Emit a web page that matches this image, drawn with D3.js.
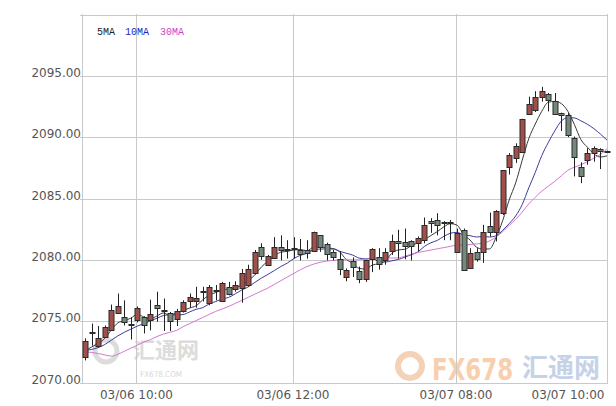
<!DOCTYPE html>
<html><head><meta charset="utf-8">
<script src="https://cdn.jsdelivr.net/npm/d3@7/dist/d3.min.js"></script>
<style>body{margin:0;background:#fff}svg{display:block}</style>
</head><body>
<svg id="chart" width="616" height="406"></svg>
<script>
// ---- data (5-minute candles) ----
const opens  = [2072.1,2074.1,2073.0,2073.75,2074.3,2075.7,2075.35,2074.8,2075.1,2075.3,2075.1,2076.3,2075.95,2075.7,2075.15,2075.8,2076.65,2076.65,2077.38,2076.45,2077.5,2076.65,2077.8,2077.6,2077.7,2077.95,2078.9,2081.05,2079.6,2080.15,2081.05,2080.88,2080.9,2080.78,2080.82,2080.75,2082.0,2081.3,2080.6,2080.05,2078.6,2079.88,2079.1,2078.45,2080.1,2080.25,2080.0,2080.7,2081.52,2081.42,2081.5,2081.35,2081.6,2083.18,2083.25,2083.1,2083.1,2080.65,2082.45,2079.3,2080.65,2080.65,2082.75,2082.3,2083.8,2087.6,2088.3,2088.8,2091.9,2092.2,2093.3,2093.55,2092.95,2092.0,2091.8,2089.9,2087.55,2088.1,2088.75,2089.0,2088.85];
const highs  = [2073.6,2074.8,2074.6,2074.65,2076.35,2077.25,2076.7,2075.3,2076.2,2075.4,2076.75,2077.4,2076.85,2075.75,2076.0,2076.7,2077.25,2077.8,2077.8,2077.95,2077.95,2078.2,2078.2,2078.25,2079.25,2079.6,2080.8,2081.35,2080.4,2081.85,2082.0,2081.6,2081.85,2081.7,2081.6,2082.3,2082.0,2081.4,2080.8,2080.7,2079.3,2080.2,2079.45,2080.0,2080.95,2080.95,2080.95,2082.05,2082.45,2082.55,2081.6,2081.9,2083.45,2083.4,2083.8,2083.15,2083.25,2082.55,2082.55,2080.95,2080.95,2082.85,2083.85,2084.05,2087.3,2088.7,2089.5,2091.5,2093.3,2093.75,2094.1,2093.6,2093.6,2092.0,2091.95,2090.05,2087.95,2089.1,2089.25,2089.1,2088.9];
const lows   = [2071.8,2073.0,2072.85,2073.7,2074.25,2075.65,2074.65,2073.5,2074.9,2074.0,2074.25,2074.95,2074.2,2074.2,2074.6,2075.7,2076.1,2076.1,2076.6,2076.3,2076.7,2076.6,2077.1,2077.4,2076.5,2077.8,2078.8,2080.0,2079.55,2080.1,2079.95,2080.1,2080.1,2079.95,2080.1,2080.7,2080.65,2079.95,2079.95,2078.75,2078.25,2078.6,2078.1,2078.2,2079.0,2079.2,2079.6,2080.4,2080.1,2080.05,2079.95,2080.7,2081.35,2082.2,2082.0,2081.6,2081.6,2080.65,2079.15,2079.3,2079.85,2079.75,2081.9,2081.5,2083.65,2086.95,2087.9,2088.75,2091.8,2092.05,2092.9,2092.1,2091.85,2090.5,2090.0,2086.8,2086.25,2087.75,2088.0,2087.4,2088.8];
const closes = [2073.4,2074.0,2073.65,2074.5,2075.9,2076.25,2074.9,2074.7,2076.1,2074.7,2075.6,2076.05,2075.9,2075.05,2075.8,2076.6,2077.0,2076.85,2077.42,2077.8,2077.56,2078.1,2077.2,2077.95,2078.9,2079.25,2080.6,2080.35,2080.35,2081.05,2080.8,2080.92,2080.95,2080.5,2080.55,2082.25,2081.05,2080.5,2080.25,2079.25,2079.15,2079.45,2078.4,2079.98,2080.88,2079.7,2080.6,2081.5,2081.35,2081.15,2081.15,2081.8,2082.8,2083.0,2082.8,2083.08,2083.08,2082.2,2079.2,2080.55,2080.1,2082.3,2082.3,2083.95,2087.3,2088.55,2089.3,2091.5,2092.7,2093.3,2093.75,2093.0,2091.85,2091.8,2090.15,2088.35,2086.85,2088.75,2089.1,2088.85,2088.85];
const ma5  = [2072.6,2072.9,2073.2,2073.6,2074.29,2074.86,2075.04,2075.25,2075.57,2075.33,2075.2,2075.43,2075.67,2075.46,2075.68,2075.88,2076.07,2076.26,2076.73,2077.13,2077.33,2077.55,2077.62,2077.72,2077.94,2078.28,2078.78,2079.41,2079.89,2080.32,2080.63,2080.69,2080.81,2080.84,2080.74,2081.03,2081.06,2080.97,2080.92,2080.66,2080.04,2079.72,2079.3,2079.25,2079.57,2079.68,2079.91,2080.53,2080.81,2080.86,2081.15,2081.39,2081.65,2081.98,2082.31,2082.7,2082.95,2082.83,2082.07,2081.62,2081.03,2080.87,2080.89,2081.84,2083.19,2084.88,2086.28,2088.12,2089.87,2091.07,2092.11,2092.85,2092.92,2092.74,2092.11,2091.03,2089.8,2089.18,2088.64,2088.38,2088.48];
const ma10 = [2072.6,2072.7,2072.85,2073.1,2073.45,2073.8,2074.1,2074.35,2074.6,2074.81,2075.03,2075.24,2075.46,2075.52,2075.51,2075.54,2075.75,2075.97,2076.1,2076.41,2076.6,2076.81,2076.94,2077.23,2077.54,2077.8,2078.16,2078.51,2078.81,2079.13,2079.46,2079.74,2080.11,2080.37,2080.53,2080.83,2080.88,2080.89,2080.88,2080.7,2080.54,2080.39,2080.14,2080.08,2080.12,2079.86,2079.82,2079.92,2080.03,2080.22,2080.42,2080.65,2081.09,2081.39,2081.59,2081.92,2082.17,2082.24,2082.03,2081.97,2081.86,2081.91,2081.86,2081.96,2082.41,2082.95,2083.58,2084.51,2085.86,2087.13,2088.5,2089.57,2090.52,2091.31,2091.59,2091.57,2091.33,2091.05,2090.69,2090.25,2089.76];
const ma30 = [2072.5,2072.45,2072.36,2072.25,2072.15,2072.3,2072.55,2072.8,2073.05,2073.3,2073.5,2073.75,2073.95,2074.1,2074.25,2074.55,2074.8,2075.05,2075.3,2075.55,2075.8,2076.0,2076.2,2076.45,2076.7,2076.95,2077.2,2077.45,2077.7,2078.0,2078.3,2078.6,2078.9,2079.2,2079.45,2079.65,2079.8,2079.9,2079.95,2080.0,2080.0,2080.0,2080.0,2080.05,2080.1,2080.15,2080.15,2080.15,2080.15,2080.3,2080.45,2080.6,2080.7,2080.8,2080.9,2081.0,2081.1,2081.2,2081.2,2081.25,2081.3,2081.35,2081.55,2081.85,2082.3,2082.8,2083.3,2083.9,2084.55,2085.1,2085.6,2086.0,2086.4,2086.85,2087.3,2087.55,2087.75,2088.0,2088.3,2088.6,2089.05];
const yTicks = [2070,2075,2080,2085,2090,2095];
const xTickLabels = ["03/06 10:00","03/06 12:00","03/07 08:00","03/07 10:00"];
const xTickIndex  = [8,32,57,81];
const seriesNames = ["5MA","10MA","30MA"];

// ---- layout ----
const L=82, R=607, T=14, B=382;
const svg=d3.select("#chart");
const x=d3.scaleLinear().domain([-0.5,80]).range([L,R]);
const y=d3.scaleLinear().domain([2070,2100]).range([B+0.5,T+0.5]);
const crisp=v=>Math.round(v)+0.5;
const gridC="#c9c9c9";

// watermarks
const wm=svg.append("g");
wm.append("circle").attr("cx",106).attr("cy",351).attr("r",11).attr("fill","none").attr("stroke","#dcdcdc").attr("stroke-width",5);
wm.append("text").attr("x",133).attr("y",358).attr("font-family","Noto Sans CJK SC").attr("font-size",22).attr("font-weight","bold")
  .attr("fill","#dcdcdc").text("汇通网");
wm.append("text").attr("transform","translate(140,377) scale(0.9,1)").attr("font-family","DejaVu Sans").attr("font-size",8)
  .attr("fill","#d8d8d8").text("FX678.COM");
wm.append("circle").attr("cx",410).attr("cy",366).attr("r",12).attr("fill","none").attr("stroke","#f3d2b8").attr("stroke-width",6);
wm.append("text").attr("transform","translate(432,380) scale(0.74,1)").attr("font-family","DejaVu Sans").attr("font-size",31).attr("font-weight","bold")
  .attr("fill","#f8cfae").text("FX678");
wm.append("text").attr("x",522).attr("y",377).attr("font-family","Noto Sans CJK SC").attr("font-size",26).attr("font-weight","bold")
  .attr("fill","#c5d2e8").text("汇通网");

// grid
const g=svg.append("g");
yTicks.concat([2100]).forEach(v=>{
  g.append("line").attr("x1",L-2).attr("x2",R).attr("y1",crisp(y(v))).attr("y2",crisp(y(v))).attr("stroke",gridC);
});
xTickIndex.forEach(i=>{
  const xv=x(i)-1;
  if(xv<R) g.append("line").attr("x1",crisp(xv)).attr("x2",crisp(xv)).attr("y1",T).attr("y2",B+2).attr("stroke",gridC);
});
g.append("line").attr("x1",crisp(L)).attr("x2",crisp(L)).attr("y1",T).attr("y2",B+2).attr("stroke",gridC);
g.append("line").attr("x1",crisp(R)).attr("x2",crisp(R)).attr("y1",T).attr("y2",B+2).attr("stroke",gridC);

// y labels
svg.append("g").selectAll("text").data(yTicks).join("text")
  .attr("x",L-1).attr("y",d=>Math.round(y(d))+1).attr("text-anchor","end")
  .attr("font-family","DejaVu Sans").attr("font-size",12).attr("fill","#555")
  .text(d=>d3.format(".2f")(d));
// x labels
svg.append("g").selectAll("text").data(xTickLabels).join("text")
  .attr("x",(d,k)=>Math.min(x(xTickIndex[k])-1,R-39)).attr("y",399).attr("text-anchor","middle")
  .attr("font-family","DejaVu Sans").attr("font-size",12).attr("fill","#555")
  .text(d=>d);

// MA lines
const maData=[ma5,ma10,ma30];
const maColors=["#3a3a3a","#3c3c9c","#d07ad0"];
maData.forEach((arr,k)=>{
  svg.append("path").datum(arr).attr("fill","none").attr("stroke",maColors[k]).attr("stroke-width",1)
    .attr("d",d3.line().x((d,i)=>x(i)).y(d=>y(d)).curve(d3.curveMonotoneX));
});

// candles
const idx=d3.range(closes.length);
const cg=svg.append("g");
idx.forEach(i=>{
  const o=opens[i],c=closes[i],h=highs[i],l=lows[i];
  const up=c>=o;
  const cx=Math.round(x(i))+0.5;
  cg.append("line").attr("x1",cx).attr("x2",cx).attr("y1",y(h)).attr("y2",y(l)).attr("stroke","#222").attr("stroke-width",1);
  const top=Math.round(y(Math.max(o,c))), bot=Math.round(y(Math.min(o,c)));
  const hgt=Math.max(1,bot-top);
  cg.append("rect").attr("x",cx-2.5).attr("y",top+0.5).attr("width",5).attr("height",hgt)
    .attr("fill",up?"#a14f4b":"#74887c").attr("stroke","#2a2a2a").attr("stroke-width",1);
});

// legend
const lg=svg.append("g").attr("font-family","Liberation Mono").attr("font-size",10);
const lgX=[97,125,160], lgC=["#222","#2323c8","#cc3fcc"];
seriesNames.forEach((n,k)=>lg.append("text").attr("x",lgX[k]).attr("y",35).attr("fill",lgC[k]).text(n));
</script>
</body></html>
